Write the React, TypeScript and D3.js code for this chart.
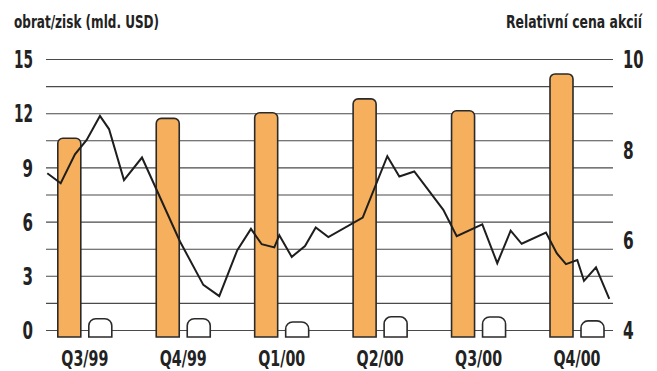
import React, { useLayoutEffect, useRef, useState } from "react";
import * as d3 from "d3";

const quarters = ["Q3/99", "Q4/99", "Q1/00", "Q2/00", "Q3/00", "Q4/00"];
const revenue = [10.64, 11.74, 12.05, 12.82, 12.16, 14.2];
const profit = [0.65, 0.65, 0.47, 0.76, 0.75, 0.53];
const leftTicks = [0, 3, 6, 9, 12, 15];
const rightTicks = [4, 6, 8, 10];
const gridValues = d3.range(0, 15.01, 1.5);
// stock price: t in quarter units (0 = Q3/99 centre), v = relative price
const priceT = [-0.381, -0.245, -0.1, 0.019, 0.154, 0.246, 0.398, 0.581, 0.967, 1.204, 1.366, 1.549, 1.688, 1.797, 1.925, 1.976, 2.102, 2.237, 2.346, 2.474, 2.823, 3.073, 3.195, 3.347, 3.642, 3.778, 4.038, 4.19, 4.326, 4.438, 4.685, 4.794, 4.888, 5.003, 5.071, 5.193, 5.328];
const priceV = [7.48, 7.26, 7.9, 8.22, 8.75, 8.46, 7.33, 7.83, 5.97, 5.01, 4.76, 5.78, 6.25, 5.91, 5.84, 6.11, 5.63, 5.87, 6.28, 6.07, 6.5, 7.86, 7.41, 7.52, 6.67, 6.09, 6.35, 5.49, 6.21, 5.92, 6.17, 5.71, 5.47, 5.56, 5.1, 5.4, 4.7];

const W = 657, H = 371;
const FONT = "'Liberation Sans Narrow', 'DejaVu Sans Condensed', 'Roboto', sans-serif";

const yL = d3.scaleLinear().domain([0, 15]).range([330.5, 59.5]);
const yR = d3.scaleLinear().domain([4, 10]).range([330.5, 59.5]);
const xq = d3.scaleLinear().domain([0, 5]).range([84.8, 577]);
const gridX0 = 46, gridX1 = 613;
const barW = 23, barGap = 4, below = 6.5;

function topRounded(x: number, y: number, w: number, bottom: number, r: number) {
  const p = d3.path();
  p.moveTo(x, bottom);
  p.lineTo(x, y + r);
  p.arcTo(x, y, x + r, y, r);
  p.lineTo(x + w - r, y);
  p.arcTo(x + w, y, x + w, y + r, r);
  p.lineTo(x + w, bottom);
  p.closePath();
  return p.toString();
}

type CTProps = { x: number; y: number; width: number; size: number; anchor?: "start" | "middle" | "end"; children: React.ReactNode };

function CondText({ x, y, width, size, anchor = "start", children }: CTProps) {
  const ref = useRef<SVGTextElement>(null);
  const [s, setS] = useState(0.72);
  useLayoutEffect(() => {
    if (ref.current) {
      const len = ref.current.getComputedTextLength();
      if (len > 0) setS(width / len);
    }
  }, [width, children]);
  return (
    <text
      ref={ref}
      transform={`translate(${x},${y}) scale(${s},1)`}
      textAnchor={anchor}
      fontFamily={FONT}
      fontWeight="bold"
      fontSize={size}
      fill="#222"
    >
      {children}
    </text>
  );
}

export default function App() {
  const line = d3
    .line<number>()
    .x((_, i) => xq(priceT[i]))
    .y((d) => yR(d));
  const base = yL(0) + below;
  return (
    <svg width={W} height={H} style={{ position: "absolute", left: 0, top: 0, background: "#fff" }}>
      <CondText x={14} y={28.3} width={145} size={17}>obrat/zisk (mld. USD)</CondText>
      <CondText x={506} y={28.3} width={136} size={17}>Relativní cena akcií</CondText>
      {gridValues.map((v) => (
        <line key={v} x1={gridX0} x2={gridX1} y1={yL(v)} y2={yL(v)} stroke="#4a4a4a" strokeWidth={1.1} />
      ))}
      {leftTicks.map((v) => (
        <CondText key={v} x={33} y={yL(v) + 8.7} anchor="end" size={24} width={v >= 10 ? 19 : 10.5}>
          {v}
        </CondText>
      ))}
      {rightTicks.map((v) => (
        <CondText key={v} x={623} y={yR(v) + 8.7} size={24} width={v >= 10 ? 20.5 : 10.7}>
          {v}
        </CondText>
      ))}
      {quarters.map((q, i) => (
        <g key={q}>
          <path d={topRounded(xq(i) - barGap - barW, yL(revenue[i]), barW, base, 5)} fill="#F6AF5C" stroke="#2a2a2a" strokeWidth={1.6} />
          <path d={topRounded(xq(i) + barGap, yL(profit[i]), barW, base, 7)} fill="#fff" stroke="#2a2a2a" strokeWidth={1.6} />
        </g>
      ))}
      {quarters.map((q, i) => (
        <CondText key={q} x={xq(i)} y={365.6} anchor="middle" size={22} width={47}>
          {q}
        </CondText>
      ))}
      <path d={line(priceV) || ""} fill="none" stroke="#1e1e1e" strokeWidth={2} strokeLinejoin="miter" />
    </svg>
  );
}
